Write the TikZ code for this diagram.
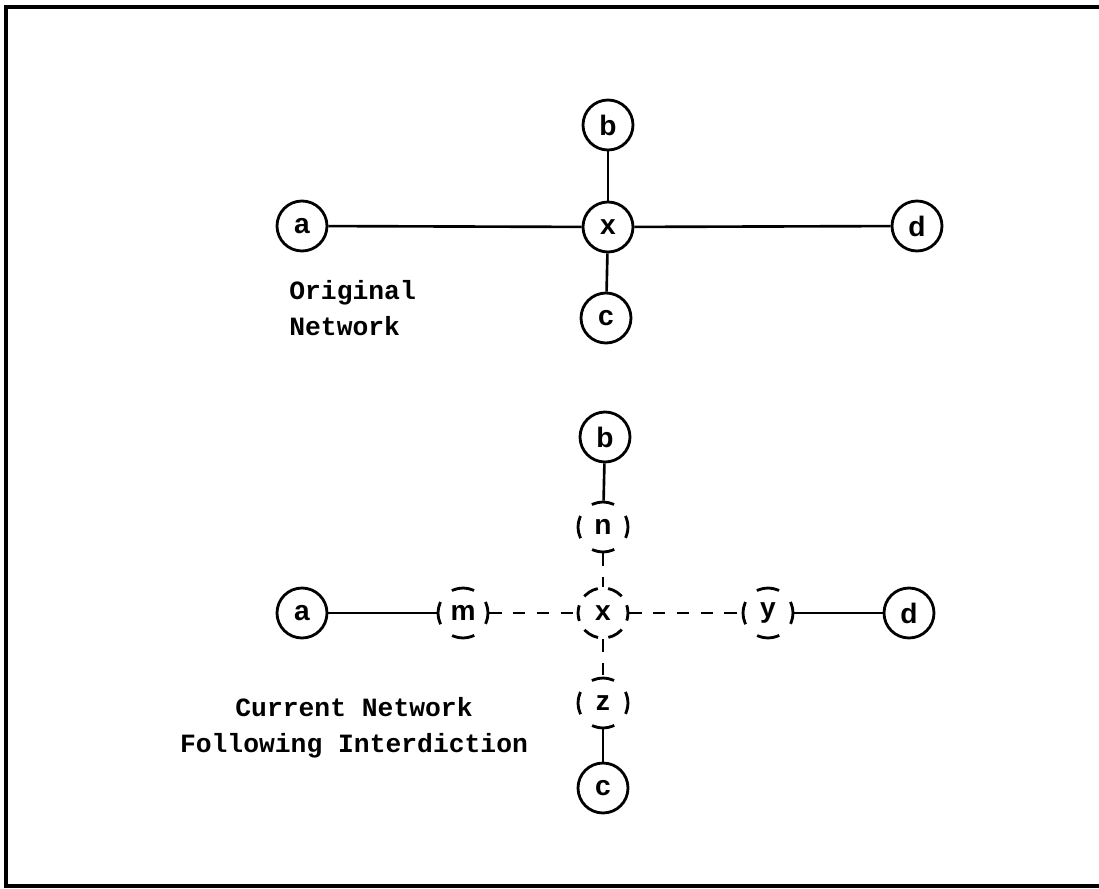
\documentclass[tikz,border=0pt]{standalone}
\usepackage{fontspec}
\newfontfamily\typefont{Liberation Mono}
\newfontfamily\vertexfont{Liberation Sans}
\begin{document}
\begin{tikzpicture}[x=0.02cm,y=-0.02cm,
  vertex/.style={circle,draw,line width=1.6pt,minimum size=1cm,inner sep=0pt,
    font=\vertexfont\bfseries\fontsize{16}{16}\selectfont},
  cut/.style={vertex,dash pattern=on 13pt off 9.35pt,dash phase=6.5pt},
  hub/.style={vertex,dash pattern=on 9pt off 5.9pt,dash phase=4.5pt},
  link/.style={line width=1.5pt},
  broken/.style={link,dash pattern=on 7pt off 6.5pt},
  caption/.style={inner sep=0pt,font=\typefont\bfseries\fontsize{15}{20}\selectfont}]
\useasboundingbox (0,0) rectangle (1099,889);
\fill[white] (0,0) rectangle (1099,889);
\draw[line width=1.8pt] (1099,7) -- (6,7) -- (6,886) -- (1099,886);

\node[vertex] (tb) at (608,125) {b};
\node[vertex] (tx) at (608,227) {x};
\node[vertex] (tc) at (606,318) {c};
\node[vertex] (ta) at (302,226) {a};
\node[vertex] (td) at (917,226) {d};
\draw[link] (ta) -- (tx);
\draw[link] (tx) -- (td);
\draw[link] (tb) -- (tx);
\draw[link] (tx) -- (tc);
\node[caption,align=left,anchor=base west] (orig) at (289,335) {Original\\Network};

\node[vertex] (bb) at (605,437) {b};
\node[cut] (bn) at (603,527) {n};
\node[hub] (bx) at (603,613) {x};
\node[cut] (bz) at (603,703) {z};
\node[vertex] (bc) at (603,788) {c};
\node[vertex] (ba) at (302,613) {a};
\node[cut] (bm) at (463,613) {m};
\node[cut] (by) at (768,613) {y};
\node[vertex] (bd) at (909,613) {d};
\draw[link] (ba) -- (bm);
\draw[broken] (bm) -- (bx);
\draw[broken] (bx) -- (by);
\draw[link] (by) -- (bd);
\draw[link] (bb) -- (bn);
\draw[broken] (bn) -- (bx);
\draw[broken] (bx) -- (bz);
\draw[link] (bz) -- (bc);
\node[caption,align=center,anchor=base] (curr) at (354,752) {Current Network\\Following Interdiction};
\end{tikzpicture}
\end{document}
